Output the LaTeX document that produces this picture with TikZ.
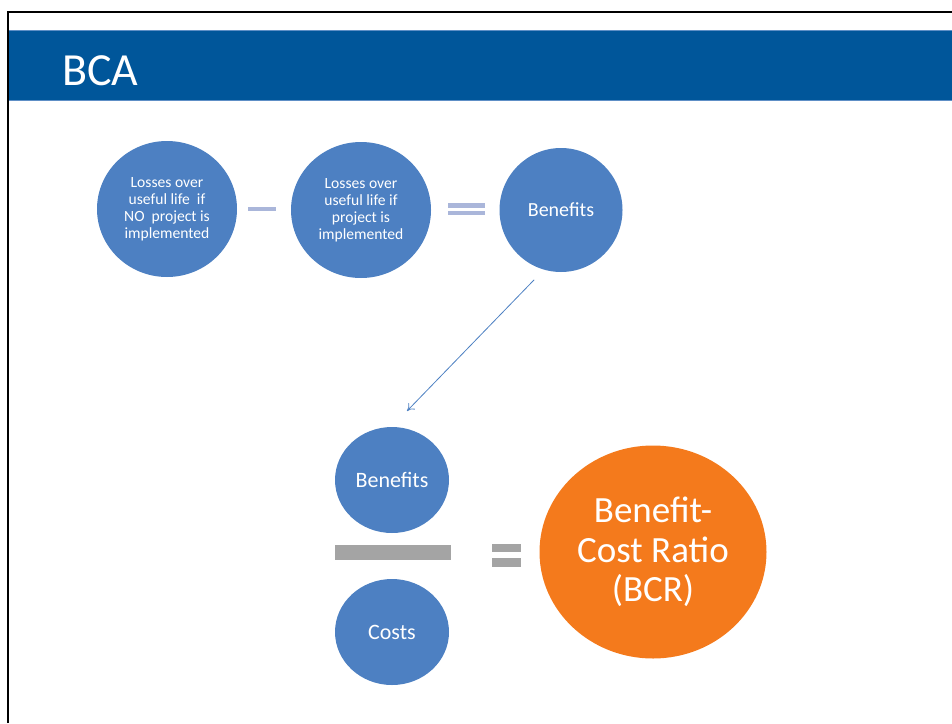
\documentclass[tikz,border=0pt]{standalone}
\usepackage{fontspec}
\setmainfont{Carlito}
\usetikzlibrary{arrows.meta, shapes.geometric}
\definecolor{hdrblue}{HTML}{00569A}
\definecolor{hdredge}{HTML}{5E8FC6}
\definecolor{circblue}{HTML}{4D80C2}
\definecolor{bcrorange}{HTML}{F47A1C}
\definecolor{oplav}{HTML}{AAB6DA}
\definecolor{opgray}{HTML}{A4A4A4}
\tikzset{
  loss/.style={ellipse, fill=circblue, text=white, align=center, inner sep=0pt,
               minimum width=140pt, minimum height=136pt,
               font=\fontsize{15.6}{17}\selectfont},
  term/.style={ellipse, fill=circblue, text=white, align=center, inner sep=0pt,
               minimum width=114pt, minimum height=106pt,
               font=\fontsize{22}{26}\selectfont},
  ratio/.style={ellipse, fill=bcrorange, text=white, align=center, inner sep=0pt,
                minimum width=227pt, minimum height=213pt,
                font=\fontsize{37}{39.5}\selectfont},
  opbar/.style={rectangle, inner sep=0pt, fill=oplav},
  flow/.style={-{To[length=7pt, width=9pt]}, draw=circblue, line width=0.8pt},
}
\begin{document}
\begin{tikzpicture}[x=1pt, y=-1pt]
  \useasboundingbox (0,0) rectangle (952,723);
  % frame and header band
  \draw[line width=2pt] (8,723) -- (8,12) -- (952,12);
  \fill[hdrblue] (9,30) rectangle (952,101);
  \draw[hdredge, line width=1pt] (9,30.5) -- (952,30.5) (9,100.5) -- (952,100.5);
  \node[anchor=base west, text=white, inner sep=0pt,
        font=\fontsize{46}{50}\selectfont] (title) at (62,85) {BCA};

  % benefits = losses without - losses with
  \node[loss] (lossno) at (167,209) {Losses over\\useful life\ \ if\\NO\ \ project is\\implemented};
  \node[loss] (lossyes) at (361,210) {Losses over\\useful life if\\project is\\implemented};
  \node[term, minimum width=123pt, minimum height=124pt,
        font=\fontsize{20}{24}\selectfont] (bentop) at (561,210) {Benefits};
  \node[opbar, minimum width=28pt, minimum height=4.5pt] (minus) at (262,209) {};
  \foreach \y/\nm in {205.5/eqa, 213/eqb}
    \node[opbar, minimum width=37pt, minimum height=4.5pt] (\nm) at (466.5,\y) {};

  % ratio
  \node[term] (benbot) at (392,480) {Benefits};
  \node[term] (costs) at (392,632) {Costs};
  \node[opbar, fill=opgray, minimum width=116pt, minimum height=15pt] (divbar) at (393,552.5) {};
  \node[opbar, fill=opgray, minimum width=29pt, minimum height=7.5pt] (eqc) at (506.5,548) {};
  \node[opbar, fill=opgray, minimum width=29pt, minimum height=9.5pt] (eqd) at (506.5,562.5) {};
  \node[ratio] (bcr) at (653,552) {Benefit-\\Cost Ratio\\(BCR)};

  \coordinate (arrtip) at (407,411);
  \draw[flow, shorten <=14pt] (bentop.254) -- (arrtip);
\end{tikzpicture}
\end{document}
